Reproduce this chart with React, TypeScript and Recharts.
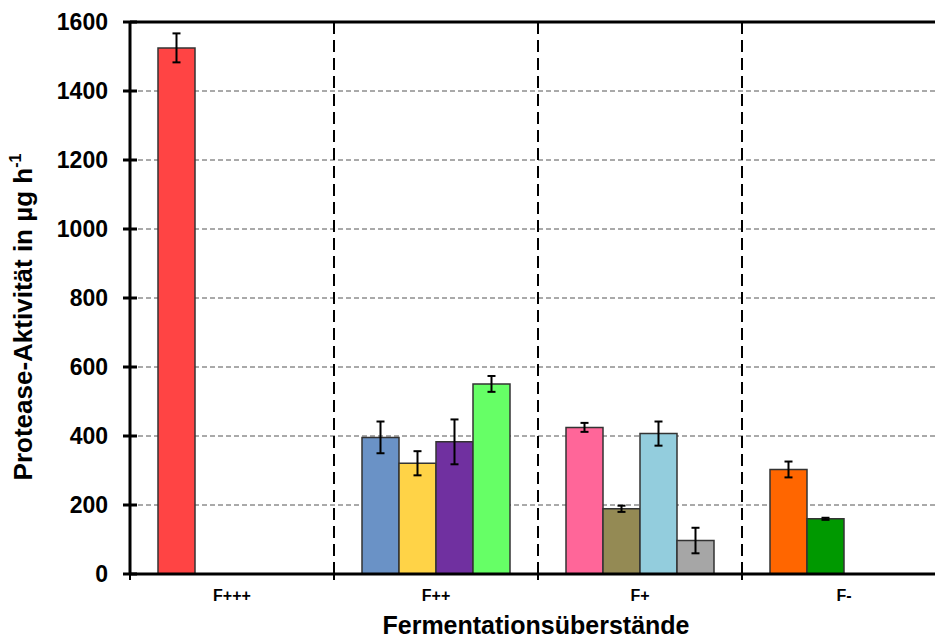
import React from "react";
import {
  BarChart,
  Bar,
  Cell,
  XAxis,
  YAxis,
  CartesianGrid,
  ReferenceLine,
  ErrorBar,
} from "recharts";

const categories = ["F+++", "F++", "F+", "F-"];

// four bar slots per group
const slot1 = [1525, 396, 425, 303];
const slot1Err = [42, 46, 13, 23];
const slot2 = [null, 321, 189, 160];
const slot2Err = [null, 35, 9, 3];
const slot3 = [null, 383, 407, null];
const slot3Err = [null, 65, 35, null];
const slot4 = [null, 551, 97, null];
const slot4Err = [null, 23, 37, null];

const slot1Colors = ["#FF4444", "#6A92C6", "#FF6699", "#FF6600"];
const slot2Colors = ["#FFD347", "#FFD347", "#948A54", "#009900"];
const slot3Colors = ["#7030A0", "#7030A0", "#93CDDD", "#93CDDD"];
const slot4Colors = ["#66FF66", "#66FF66", "#A6A6A6", "#A6A6A6"];

const yTicks = [0, 200, 400, 600, 800, 1000, 1200, 1400, 1600];

const data = categories.map((name, i) => ({
  name,
  s1: slot1[i],
  e1: slot1Err[i],
  s2: slot2[i],
  e2: slot2Err[i],
  s3: slot3[i],
  e3: slot3Err[i],
  s4: slot4[i],
  e4: slot4Err[i],
}));

const font = "'Liberation Sans', Arial, sans-serif";

const YTick = (props: any) => {
  const { x, y, payload } = props;
  return (
    <g>
      <line x1={x - 7} x2={x + 7} y1={y} y2={y} stroke="#000" strokeWidth={3} />
      <text
        x={x - 22}
        y={y + 8}
        textAnchor="end"
        fontFamily={font}
        fontWeight="bold"
        fontSize={23}
        fill="#000"
      >
        {payload.value}
      </text>
    </g>
  );
};

const XTick = (props: any) => {
  const { x, y, payload } = props;
  const left = x - payload.offset;
  return (
    <g>
      <line x1={left} x2={left} y1={y - 8} y2={y + 6} stroke="#000" strokeWidth={2} />
      <text
        x={x}
        y={y + 27}
        textAnchor="middle"
        fontFamily={font}
        fontWeight="bold"
        fontSize={16}
        fill="#000"
      >
        {payload.value}
      </text>
    </g>
  );
};

const YTitle = (props: any) => {
  const { viewBox } = props;
  const cx = viewBox.x + 32;
  const cy = viewBox.y + viewBox.height / 2 + 19;
  return (
    <text
      x={cx}
      y={cy}
      transform={`rotate(-90 ${cx} ${cy})`}
      textAnchor="middle"
      fontFamily={font}
      fontWeight="bold"
      fontSize={26}
      fill="#000"
    >
      Protease-Aktivität in µg h
      <tspan fontSize={16} dy={-11}>
        -1
      </tspan>
    </text>
  );
};

const XTitle = (props: any) => {
  const { viewBox } = props;
  return (
    <text
      x={viewBox.x + viewBox.width / 2 - 2}
      y={viewBox.y + 60}
      textAnchor="middle"
      fontFamily={font}
      fontWeight="bold"
      fontSize={25}
      fill="#000"
    >
      Fermentationsüberstände
    </text>
  );
};

const series = [
  { key: "s1", err: "e1", colors: slot1Colors },
  { key: "s2", err: "e2", colors: slot2Colors },
  { key: "s3", err: "e3", colors: slot3Colors },
  { key: "s4", err: "e4", colors: slot4Colors },
];

export default function App() {
  return (
    <div
      style={{
        position: "absolute",
        left: 0,
        top: 0,
        width: 935,
        height: 640,
        overflow: "hidden",
        background: "#fff",
      }}
    >
      <BarChart
        width={950}
        height={640}
        data={data}
        margin={{ top: 22, right: 4, left: 0, bottom: 0 }}
        barCategoryGap={28}
        barGap={0}
      >
        <CartesianGrid vertical={false} stroke="#555" strokeDasharray="5 3" />
        <XAxis
          dataKey="name"
          height={66}
          interval={0}
          tickLine={false}
          tickSize={0}
          tickMargin={0}
          tick={<XTick />}
          axisLine={{ stroke: "#000", strokeWidth: 3 }}
          label={<XTitle />}
        />
        <YAxis
          width={130}
          domain={[0, 1600]}
          ticks={yTicks}
          interval={0}
          tickLine={false}
          tickSize={0}
          tickMargin={0}
          tick={<YTick />}
          axisLine={{ stroke: "#000", strokeWidth: 3 }}
          label={<YTitle />}
        />
        <ReferenceLine y={1600} stroke="#000" strokeWidth={3} />
        {categories.slice(1).map((c) => (
          <ReferenceLine
            key={c}
            x={c}
            position="start"
            stroke="#000"
            strokeWidth={2}
            strokeDasharray="12 6"
          />
        ))}
        {series.map((s) => (
          <Bar
            key={s.key}
            dataKey={s.key}
            stroke="#333"
            strokeWidth={1.5}
            isAnimationActive={false}
          >
            {data.map((d, i) => (
              <Cell key={i} fill={s.colors[i]} />
            ))}
            <ErrorBar
              dataKey={s.err}
              width={4}
              stroke="#000"
              strokeWidth={2}
              direction="y"
            />
          </Bar>
        ))}
      </BarChart>
    </div>
  );
}
